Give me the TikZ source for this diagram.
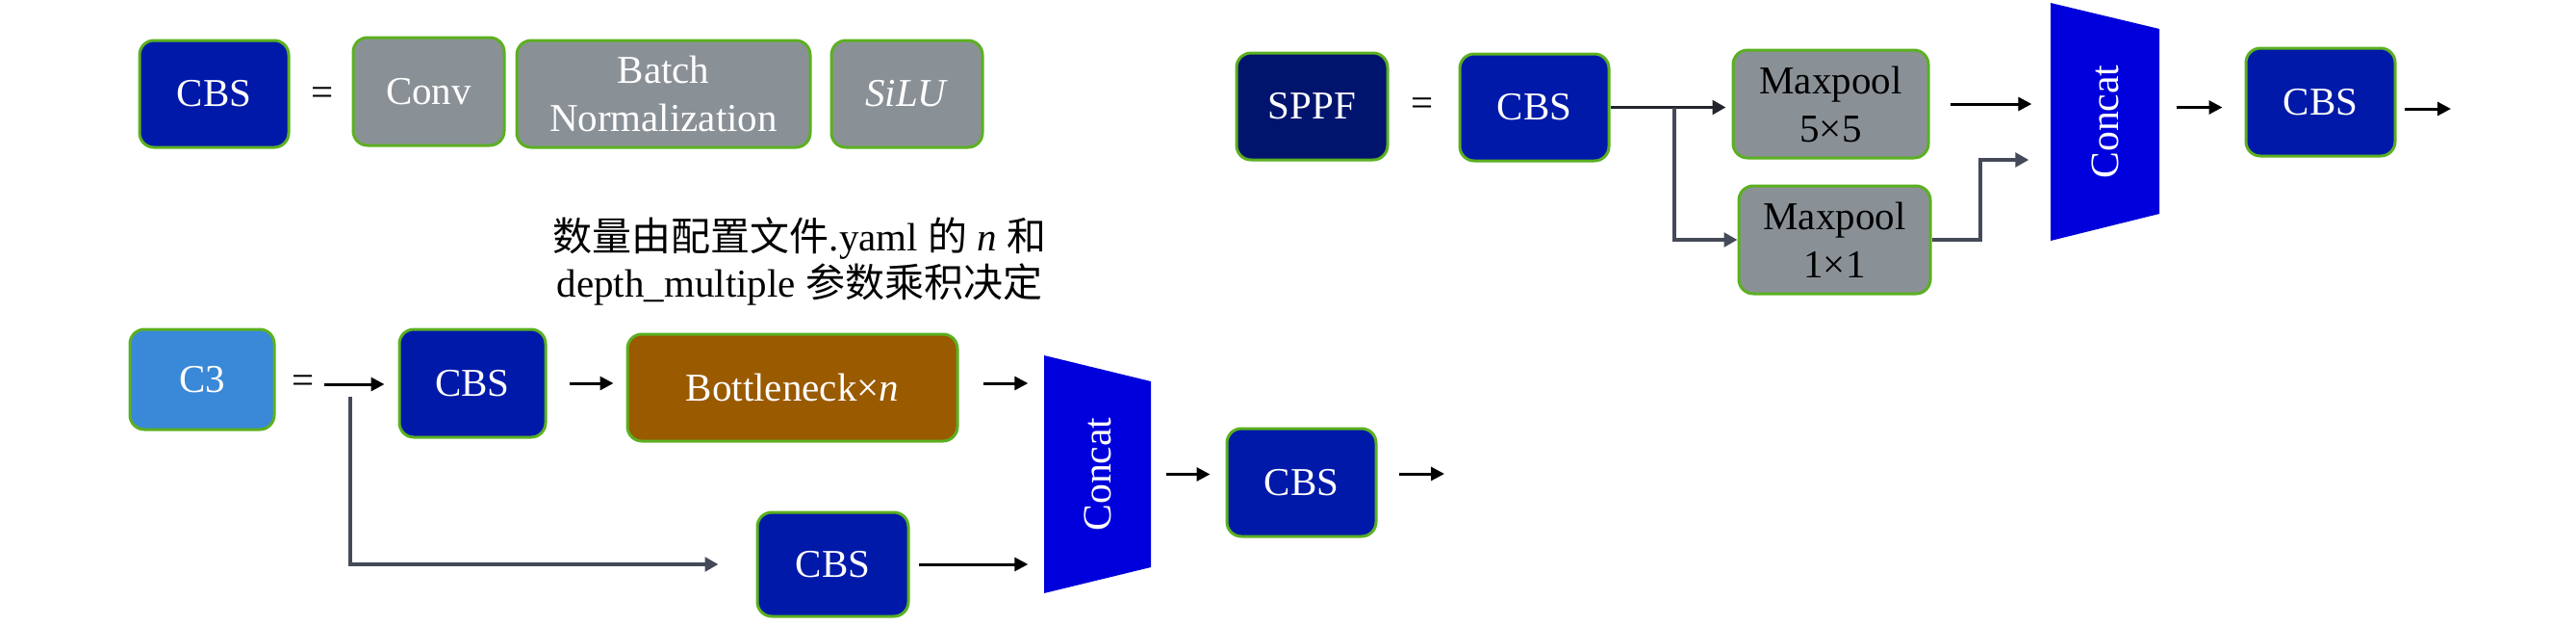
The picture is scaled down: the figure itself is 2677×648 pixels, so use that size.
\documentclass[tikz,border=0pt]{standalone}
\usepackage{fontspec}
\setmainfont{Liberation Serif}
\newfontfamily\cjk{Noto Sans CJK SC}
\usetikzlibrary{arrows.meta,calc}
\definecolor{cbsblue}{HTML}{0019A8}
\definecolor{sppfnavy}{HTML}{00146E}
\definecolor{cthree}{HTML}{3A88D8}
\definecolor{graybox}{HTML}{8A9196}
\definecolor{brownbox}{HTML}{9A5A00}
\definecolor{concatblue}{HTML}{0000DC}
\definecolor{bordergreen}{HTML}{5BB020}
\definecolor{branchgray}{HTML}{454A58}
\definecolor{darkline}{HTML}{23262E}
\begin{document}
\begin{tikzpicture}[x=0.3pt,y=-0.3pt,
  lbl/.style={font=\fontsize{12.3pt}{15pt}\selectfont},
  box/.style={lbl, draw=bordergreen, line width=0.9pt, rounded corners=4.5pt, inner sep=0pt, text=white, align=center},
  sz/.style 2 args={minimum width=#1pt, minimum height=#2pt},
  arr/.style={line width=0.9pt, -{Triangle[length=4.2pt,width=4.2pt]}},
  darkarr/.style={draw=darkline, line width=1.1pt, -{Triangle[length=4.2pt,width=4.4pt]}},
  garr/.style={draw=branchgray, line width=1.3pt, -{Triangle[length=4.2pt,width=4.4pt]}},
  eqs/.style={lbl, inner sep=0pt},
  ctext/.style={font=\fontsize{12.5pt}{15pt}\selectfont, text=white, rotate=90}
]
\useasboundingbox (0,0) rectangle (2677,648);

% ---- CBS definition row ----
\node[box, fill=cbsblue, sz={46.5}{33.3}] (cbsA) at (222.5,97.5) {CBS};
\node[eqs] (eqA) at (335,100) {=};
\node[box, fill=graybox, sz={47.1}{33.6}] (conv) at (445.5,95) {Conv};
\node[box, fill=graybox, sz={91.5}{33.3}] (bn) at (689.5,97.5) {Batch\\Normalization};
\node[box, fill=graybox, sz={47.1}{33.3}] (silu) at (942.5,97.5) {\textit{SiLU}};

% ---- annotation ----
\node[align=center, font=\fontsize{12.3pt}{14.4pt}\selectfont] (note) at (831,271)
  {{\cjk 数量由配置文件}.yaml {\cjk 的} \textit{n} {\cjk 和}\\depth\_multiple {\cjk 参数乘积决定}};

% ---- C3 ----
\node[box, fill=cthree, sz={45}{31.2}] (c3) at (210,394) {C3};
\node[eqs] (eqB) at (315,399) {=};
\node[box, fill=cbsblue, sz={45.6}{33.6}] (cbsB) at (491,398) {CBS};
\node[box, fill=brownbox, sz={102.9}{33.3}] (bott) at (823.5,402.5) {Bottleneck×\textit{n}};
\node[inner sep=0pt, sz={33.3}{74.1}] (concatB) at (1140.5,492.5) {};
\fill[concatblue] (1085,369) -- (1196,396) -- (1196,589) -- (1085,616) -- cycle;
\node[ctext] (concatBt) at (concatB.center) {Concat};
\node[box, fill=cbsblue, sz={46.5}{33.6}] (cbsC) at (1352.5,501) {CBS};
\node[box, fill=cbsblue, sz={47.1}{32.4}] (cbsD) at (865.5,586) {CBS};
\coordinate (brB) at (364,412);
\coordinate (outB) at (1501,492);

\draw[arr, shorten <=3pt, shorten >=4.2pt] (eqB.east) -- (eqB.east -| cbsB.west);
\draw[arr, shorten <=6.9pt, shorten >=3.9pt] (cbsB.east) -- (cbsB.east -| bott.west);
\draw[arr, shorten <=7.5pt, shorten >=4.8pt] (bott.east |- cbsB.east) -- (concatB.west |- cbsB.east);
\draw[arr, shorten <=4.5pt, shorten >=4.8pt] (concatB.east) -- (concatB.east -| cbsC.west);
\draw[arr, shorten <=6.6pt] (cbsC.east |- outB) -- (outB);
\draw[garr, shorten >=11.7pt] (brB) |- (cbsD.west);
\draw[arr, shorten <=2.7pt, shorten >=4.8pt] (cbsD.east) -- (cbsD.east -| concatB.west);

% ---- SPPF ----
\node[box, fill=sppfnavy, sz={47.1}{33.3}] (sppf) at (1363.5,110.5) {SPPF};
\node[eqs] (eqC) at (1478,111) {=};
\node[box, fill=cbsblue, sz={46.5}{33.3}] (cbsE) at (1594.5,111.5) {CBS};
\node[box, fill=graybox, text=black, sz={60.9}{33.6}] (maxA) at (1902.5,108) {Maxpool\\5×5};
\node[box, fill=graybox, text=black, sz={59.7}{33.6}] (maxB) at (1906.5,249) {Maxpool\\1×1};
\node[inner sep=0pt, sz={33.9}{74.1}] (concatA) at (2187.5,126.5) {};
\fill[concatblue] (2131,3) -- (2244,30) -- (2244,222) -- (2131,250) -- cycle;
\node[ctext] (concatAt) at (concatA.center) {Concat};
\node[box, fill=cbsblue, sz={46.5}{33.6}] (cbsF) at (2411.5,106) {CBS};
\coordinate (brE) at (1740,112);
\coordinate (jB) at (2058,166);
\coordinate (outF) at (2547,113);

\draw[darkarr, shorten >=1.8pt] (cbsE.east) -- (cbsE.east -| maxA.west);
\draw[garr] (brE) |- (maxB.west);
\draw[arr, shorten <=6.3pt, shorten >=5.7pt] (maxA.east) -- (maxA.east -| concatA.west);
\draw[garr, shorten >=6.6pt] (maxB.east) -| (jB) -- (jB -| concatA.west);
\draw[arr, shorten <=5.1pt, shorten >=6.9pt] (concatA.east |- cbsE.east) -- (cbsF.west |- cbsE.east);
\draw[arr, shorten <=2.4pt] (cbsF.east |- outF) -- (outF);
\end{tikzpicture}
\end{document}
